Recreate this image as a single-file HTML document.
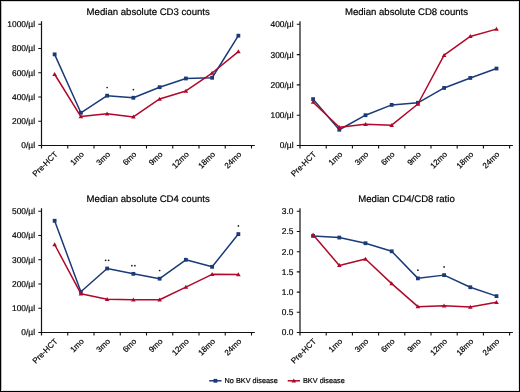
<!DOCTYPE html>
<html><head><meta charset="utf-8"><style>
html,body{margin:0;padding:0;background:#fff;}
body{width:520px;height:392px;overflow:hidden;}
.wrap{position:relative;width:518px;height:390px;border:1px solid #000;background:#fff;}
text{stroke:#000;stroke-width:0.2px;}
svg{position:absolute;left:-1px;top:-1px;will-change:transform;text-rendering:geometricPrecision;font-family:"Liberation Sans",sans-serif;}
</style></head><body><div class="wrap">
<svg width="520" height="392" viewBox="0 0 520 392">
<path d="M1.5 1V391" stroke="#bbb" stroke-width="1"/><path d="M1 1.5H519" stroke="#d4d4d4" stroke-width="1"/><path d="M518.5 1V391" stroke="#e4e4e4" stroke-width="1"/><path d="M1 390.5H519" stroke="#e8e8e8" stroke-width="1"/>
<text x="148.2" y="15.4" text-anchor="middle" font-size="9.6" fill="#000">Median absolute CD3 counts</text>
<path d="M41.5 21.3V148.5M41.5 145.5H254.8" stroke="#111" stroke-width="1.2" fill="none"/>
<text x="35" y="148.4" text-anchor="end" font-size="8.4" fill="#000">0/µl</text>
<text x="35" y="124.16" text-anchor="end" font-size="8.4" fill="#000">200/µl</text>
<text x="35" y="99.92" text-anchor="end" font-size="8.4" fill="#000">400/µl</text>
<text x="35" y="75.68" text-anchor="end" font-size="8.4" fill="#000">600/µl</text>
<text x="35" y="51.44" text-anchor="end" font-size="8.4" fill="#000">800/µl</text>
<text x="35" y="27.2" text-anchor="end" font-size="8.4" fill="#000">1000/µl</text>
<path d="M38.3 145.5H41.5M38.3 121.26H41.5M38.3 97.02H41.5M38.3 72.78H41.5M38.3 48.54H41.5M38.3 24.3H41.5M67.75 145.5V148.5M94 145.5V148.5M120.25 145.5V148.5M146.5 145.5V148.5M172.75 145.5V148.5M199 145.5V148.5M225.25 145.5V148.5M251.5 145.5V148.5" stroke="#111" stroke-width="1.1" fill="none"/>
<text transform="translate(58.12 154.8) rotate(-45)" text-anchor="end" font-size="8.0" fill="#000">Pre-HCT</text>
<text transform="translate(84.38 154.8) rotate(-45)" text-anchor="end" font-size="8.0" fill="#000">1mo</text>
<text transform="translate(110.62 154.8) rotate(-45)" text-anchor="end" font-size="8.0" fill="#000">3mo</text>
<text transform="translate(136.88 154.8) rotate(-45)" text-anchor="end" font-size="8.0" fill="#000">6mo</text>
<text transform="translate(163.12 154.8) rotate(-45)" text-anchor="end" font-size="8.0" fill="#000">9mo</text>
<text transform="translate(189.38 154.8) rotate(-45)" text-anchor="end" font-size="8.0" fill="#000">12mo</text>
<text transform="translate(215.62 154.8) rotate(-45)" text-anchor="end" font-size="8.0" fill="#000">18mo</text>
<text transform="translate(241.88 154.8) rotate(-45)" text-anchor="end" font-size="8.0" fill="#000">24mo</text>
<polyline points="54.62,54.36 80.88,112.78 107.12,95.69 133.38,97.75 159.62,87.2 185.88,78.48 212.12,77.75 238.38,35.69" stroke="#1a3a78" stroke-width="1.5" fill="none" stroke-linejoin="round"/>
<rect x="52.73" y="52.46" width="3.8" height="3.8" fill="#1a3a78"/>
<rect x="78.97" y="110.88" width="3.8" height="3.8" fill="#1a3a78"/>
<rect x="105.22" y="93.79" width="3.8" height="3.8" fill="#1a3a78"/>
<rect x="131.47" y="95.85" width="3.8" height="3.8" fill="#1a3a78"/>
<rect x="157.72" y="85.3" width="3.8" height="3.8" fill="#1a3a78"/>
<rect x="183.97" y="76.58" width="3.8" height="3.8" fill="#1a3a78"/>
<rect x="210.22" y="75.85" width="3.8" height="3.8" fill="#1a3a78"/>
<rect x="236.47" y="33.79" width="3.8" height="3.8" fill="#1a3a78"/>
<polyline points="54.62,74.23 80.88,116.53 107.12,113.87 133.38,116.9 159.62,98.96 185.88,90.96 212.12,73.02 238.38,51.57" stroke="#b0082a" stroke-width="1.5" fill="none" stroke-linejoin="round"/>
<path d="M54.62 71.91L56.92 75.91L52.33 75.91Z" fill="#b0082a"/>
<path d="M80.88 114.21L83.17 118.21L78.58 118.21Z" fill="#b0082a"/>
<path d="M107.12 111.55L109.42 115.55L104.83 115.55Z" fill="#b0082a"/>
<path d="M133.38 114.58L135.68 118.58L131.07 118.58Z" fill="#b0082a"/>
<path d="M159.62 96.64L161.93 100.64L157.32 100.64Z" fill="#b0082a"/>
<path d="M185.88 88.64L188.18 92.64L183.57 92.64Z" fill="#b0082a"/>
<path d="M212.12 70.7L214.43 74.7L209.82 74.7Z" fill="#b0082a"/>
<path d="M238.38 49.25L240.68 53.25L236.07 53.25Z" fill="#b0082a"/>
<circle cx="107.12" cy="87.49" r="0.85" fill="#1a1a1a"/>
<circle cx="133.38" cy="89.55" r="0.85" fill="#1a1a1a"/>
<text x="406.5" y="15.4" text-anchor="middle" font-size="9.6" fill="#000">Median absolute CD8 counts</text>
<path d="M300 21.3V148.5M300 145.5H512.9" stroke="#111" stroke-width="1.2" fill="none"/>
<text x="293.5" y="148.4" text-anchor="end" font-size="8.4" fill="#000">0/µl</text>
<text x="293.5" y="118.1" text-anchor="end" font-size="8.4" fill="#000">100/µl</text>
<text x="293.5" y="87.8" text-anchor="end" font-size="8.4" fill="#000">200/µl</text>
<text x="293.5" y="57.5" text-anchor="end" font-size="8.4" fill="#000">300/µl</text>
<text x="293.5" y="27.2" text-anchor="end" font-size="8.4" fill="#000">400/µl</text>
<path d="M296.8 145.5H300M296.8 115.2H300M296.8 84.9H300M296.8 54.6H300M296.8 24.3H300M326.2 145.5V148.5M352.4 145.5V148.5M378.6 145.5V148.5M404.8 145.5V148.5M431 145.5V148.5M457.2 145.5V148.5M483.4 145.5V148.5M509.6 145.5V148.5" stroke="#111" stroke-width="1.1" fill="none"/>
<text transform="translate(316.6 154.8) rotate(-45)" text-anchor="end" font-size="8.0" fill="#000">Pre-HCT</text>
<text transform="translate(342.8 154.8) rotate(-45)" text-anchor="end" font-size="8.0" fill="#000">1mo</text>
<text transform="translate(369 154.8) rotate(-45)" text-anchor="end" font-size="8.0" fill="#000">3mo</text>
<text transform="translate(395.2 154.8) rotate(-45)" text-anchor="end" font-size="8.0" fill="#000">6mo</text>
<text transform="translate(421.4 154.8) rotate(-45)" text-anchor="end" font-size="8.0" fill="#000">9mo</text>
<text transform="translate(447.6 154.8) rotate(-45)" text-anchor="end" font-size="8.0" fill="#000">12mo</text>
<text transform="translate(473.8 154.8) rotate(-45)" text-anchor="end" font-size="8.0" fill="#000">18mo</text>
<text transform="translate(500 154.8) rotate(-45)" text-anchor="end" font-size="8.0" fill="#000">24mo</text>
<polyline points="313.1,99.14 339.3,129.74 365.5,115.2 391.7,104.9 417.9,102.78 444.1,87.93 470.3,77.93 496.5,68.54" stroke="#1a3a78" stroke-width="1.5" fill="none" stroke-linejoin="round"/>
<rect x="311.2" y="97.24" width="3.8" height="3.8" fill="#1a3a78"/>
<rect x="337.4" y="127.84" width="3.8" height="3.8" fill="#1a3a78"/>
<rect x="363.6" y="113.3" width="3.8" height="3.8" fill="#1a3a78"/>
<rect x="389.8" y="103" width="3.8" height="3.8" fill="#1a3a78"/>
<rect x="416" y="100.88" width="3.8" height="3.8" fill="#1a3a78"/>
<rect x="442.2" y="86.03" width="3.8" height="3.8" fill="#1a3a78"/>
<rect x="468.4" y="76.03" width="3.8" height="3.8" fill="#1a3a78"/>
<rect x="494.6" y="66.64" width="3.8" height="3.8" fill="#1a3a78"/>
<polyline points="313.1,102.17 339.3,127.32 365.5,124.29 391.7,125.2 417.9,103.99 444.1,55.21 470.3,36.42 496.5,29.15" stroke="#b0082a" stroke-width="1.5" fill="none" stroke-linejoin="round"/>
<path d="M313.1 99.85L315.4 103.85L310.8 103.85Z" fill="#b0082a"/>
<path d="M339.3 125L341.6 129L337 129Z" fill="#b0082a"/>
<path d="M365.5 121.97L367.8 125.97L363.2 125.97Z" fill="#b0082a"/>
<path d="M391.7 122.88L394 126.88L389.4 126.88Z" fill="#b0082a"/>
<path d="M417.9 101.67L420.2 105.67L415.6 105.67Z" fill="#b0082a"/>
<path d="M444.1 52.89L446.4 56.89L441.8 56.89Z" fill="#b0082a"/>
<path d="M470.3 34.1L472.6 38.1L468 38.1Z" fill="#b0082a"/>
<path d="M496.5 26.83L498.8 30.83L494.2 30.83Z" fill="#b0082a"/>
<text x="148.2" y="201.9" text-anchor="middle" font-size="9.6" fill="#000">Median absolute CD4 counts</text>
<path d="M41.5 208.3V335.5M41.5 332.5H254.8" stroke="#111" stroke-width="1.2" fill="none"/>
<text x="35" y="335.4" text-anchor="end" font-size="8.4" fill="#000">0/µl</text>
<text x="35" y="311.16" text-anchor="end" font-size="8.4" fill="#000">100/µl</text>
<text x="35" y="286.92" text-anchor="end" font-size="8.4" fill="#000">200/µl</text>
<text x="35" y="262.68" text-anchor="end" font-size="8.4" fill="#000">300/µl</text>
<text x="35" y="238.44" text-anchor="end" font-size="8.4" fill="#000">400/µl</text>
<text x="35" y="214.2" text-anchor="end" font-size="8.4" fill="#000">500/µl</text>
<path d="M38.3 332.5H41.5M38.3 308.26H41.5M38.3 284.02H41.5M38.3 259.78H41.5M38.3 235.54H41.5M38.3 211.3H41.5M67.75 332.5V335.5M94 332.5V335.5M120.25 332.5V335.5M146.5 332.5V335.5M172.75 332.5V335.5M199 332.5V335.5M225.25 332.5V335.5M251.5 332.5V335.5" stroke="#111" stroke-width="1.1" fill="none"/>
<text transform="translate(58.12 341.8) rotate(-45)" text-anchor="end" font-size="8.0" fill="#000">Pre-HCT</text>
<text transform="translate(84.38 341.8) rotate(-45)" text-anchor="end" font-size="8.0" fill="#000">1mo</text>
<text transform="translate(110.62 341.8) rotate(-45)" text-anchor="end" font-size="8.0" fill="#000">3mo</text>
<text transform="translate(136.88 341.8) rotate(-45)" text-anchor="end" font-size="8.0" fill="#000">6mo</text>
<text transform="translate(163.12 341.8) rotate(-45)" text-anchor="end" font-size="8.0" fill="#000">9mo</text>
<text transform="translate(189.38 341.8) rotate(-45)" text-anchor="end" font-size="8.0" fill="#000">12mo</text>
<text transform="translate(215.62 341.8) rotate(-45)" text-anchor="end" font-size="8.0" fill="#000">18mo</text>
<text transform="translate(241.88 341.8) rotate(-45)" text-anchor="end" font-size="8.0" fill="#000">24mo</text>
<polyline points="54.62,220.75 80.88,291.78 107.12,268.51 133.38,273.84 159.62,278.69 185.88,259.78 212.12,266.81 238.38,234.09" stroke="#1a3a78" stroke-width="1.5" fill="none" stroke-linejoin="round"/>
<rect x="52.73" y="218.85" width="3.8" height="3.8" fill="#1a3a78"/>
<rect x="78.97" y="289.88" width="3.8" height="3.8" fill="#1a3a78"/>
<rect x="105.22" y="266.61" width="3.8" height="3.8" fill="#1a3a78"/>
<rect x="131.47" y="271.94" width="3.8" height="3.8" fill="#1a3a78"/>
<rect x="157.72" y="276.79" width="3.8" height="3.8" fill="#1a3a78"/>
<rect x="183.97" y="257.88" width="3.8" height="3.8" fill="#1a3a78"/>
<rect x="210.22" y="264.91" width="3.8" height="3.8" fill="#1a3a78"/>
<rect x="236.47" y="232.19" width="3.8" height="3.8" fill="#1a3a78"/>
<polyline points="54.62,244.51 80.88,293.72 107.12,299.29 133.38,299.78 159.62,299.78 185.88,287.17 212.12,274.32 238.38,274.57" stroke="#b0082a" stroke-width="1.5" fill="none" stroke-linejoin="round"/>
<path d="M54.62 242.19L56.92 246.19L52.33 246.19Z" fill="#b0082a"/>
<path d="M80.88 291.4L83.17 295.4L78.58 295.4Z" fill="#b0082a"/>
<path d="M107.12 296.97L109.42 300.97L104.83 300.97Z" fill="#b0082a"/>
<path d="M133.38 297.46L135.68 301.46L131.07 301.46Z" fill="#b0082a"/>
<path d="M159.62 297.46L161.93 301.46L157.32 301.46Z" fill="#b0082a"/>
<path d="M185.88 284.85L188.18 288.85L183.57 288.85Z" fill="#b0082a"/>
<path d="M212.12 272L214.43 276L209.82 276Z" fill="#b0082a"/>
<path d="M238.38 272.25L240.68 276.25L236.07 276.25Z" fill="#b0082a"/>
<circle cx="105.62" cy="260.31" r="0.85" fill="#1a1a1a"/>
<circle cx="108.62" cy="260.31" r="0.85" fill="#1a1a1a"/>
<circle cx="131.88" cy="265.64" r="0.85" fill="#1a1a1a"/>
<circle cx="134.88" cy="265.64" r="0.85" fill="#1a1a1a"/>
<circle cx="159.62" cy="270.49" r="0.85" fill="#1a1a1a"/>
<circle cx="238.38" cy="225.89" r="0.85" fill="#1a1a1a"/>
<text x="406.5" y="201.9" text-anchor="middle" font-size="9.6" fill="#000">Median CD4/CD8 ratio</text>
<path d="M300 208.3V335.5M300 332.5H512.9" stroke="#111" stroke-width="1.2" fill="none"/>
<text x="293.5" y="335.4" text-anchor="end" font-size="8.4" fill="#000">0.0</text>
<text x="293.5" y="315.2" text-anchor="end" font-size="8.4" fill="#000">0.5</text>
<text x="293.5" y="295" text-anchor="end" font-size="8.4" fill="#000">1.0</text>
<text x="293.5" y="274.8" text-anchor="end" font-size="8.4" fill="#000">1.5</text>
<text x="293.5" y="254.6" text-anchor="end" font-size="8.4" fill="#000">2.0</text>
<text x="293.5" y="234.4" text-anchor="end" font-size="8.4" fill="#000">2.5</text>
<text x="293.5" y="214.2" text-anchor="end" font-size="8.4" fill="#000">3.0</text>
<path d="M296.8 332.5H300M296.8 312.3H300M296.8 292.1H300M296.8 271.9H300M296.8 251.7H300M296.8 231.5H300M296.8 211.3H300M326.2 332.5V335.5M352.4 332.5V335.5M378.6 332.5V335.5M404.8 332.5V335.5M431 332.5V335.5M457.2 332.5V335.5M483.4 332.5V335.5M509.6 332.5V335.5" stroke="#111" stroke-width="1.1" fill="none"/>
<text transform="translate(316.6 341.8) rotate(-45)" text-anchor="end" font-size="8.0" fill="#000">Pre-HCT</text>
<text transform="translate(342.8 341.8) rotate(-45)" text-anchor="end" font-size="8.0" fill="#000">1mo</text>
<text transform="translate(369 341.8) rotate(-45)" text-anchor="end" font-size="8.0" fill="#000">3mo</text>
<text transform="translate(395.2 341.8) rotate(-45)" text-anchor="end" font-size="8.0" fill="#000">6mo</text>
<text transform="translate(421.4 341.8) rotate(-45)" text-anchor="end" font-size="8.0" fill="#000">9mo</text>
<text transform="translate(447.6 341.8) rotate(-45)" text-anchor="end" font-size="8.0" fill="#000">12mo</text>
<text transform="translate(473.8 341.8) rotate(-45)" text-anchor="end" font-size="8.0" fill="#000">18mo</text>
<text transform="translate(500 341.8) rotate(-45)" text-anchor="end" font-size="8.0" fill="#000">24mo</text>
<polyline points="313.1,235.94 339.3,237.56 365.5,243.22 391.7,251.3 417.9,278.36 444.1,275.13 470.3,287.25 496.5,296.14" stroke="#1a3a78" stroke-width="1.5" fill="none" stroke-linejoin="round"/>
<rect x="311.2" y="234.04" width="3.8" height="3.8" fill="#1a3a78"/>
<rect x="337.4" y="235.66" width="3.8" height="3.8" fill="#1a3a78"/>
<rect x="363.6" y="241.32" width="3.8" height="3.8" fill="#1a3a78"/>
<rect x="389.8" y="249.4" width="3.8" height="3.8" fill="#1a3a78"/>
<rect x="416" y="276.46" width="3.8" height="3.8" fill="#1a3a78"/>
<rect x="442.2" y="273.23" width="3.8" height="3.8" fill="#1a3a78"/>
<rect x="468.4" y="285.35" width="3.8" height="3.8" fill="#1a3a78"/>
<rect x="494.6" y="294.24" width="3.8" height="3.8" fill="#1a3a78"/>
<polyline points="313.1,234.73 339.3,265.44 365.5,258.97 391.7,283.62 417.9,306.64 444.1,305.84 470.3,307.05 496.5,302.2" stroke="#b0082a" stroke-width="1.5" fill="none" stroke-linejoin="round"/>
<path d="M313.1 232.41L315.4 236.41L310.8 236.41Z" fill="#b0082a"/>
<path d="M339.3 263.12L341.6 267.12L337 267.12Z" fill="#b0082a"/>
<path d="M365.5 256.65L367.8 260.65L363.2 260.65Z" fill="#b0082a"/>
<path d="M391.7 281.3L394 285.3L389.4 285.3Z" fill="#b0082a"/>
<path d="M417.9 304.32L420.2 308.32L415.6 308.32Z" fill="#b0082a"/>
<path d="M444.1 303.52L446.4 307.52L441.8 307.52Z" fill="#b0082a"/>
<path d="M470.3 304.73L472.6 308.73L468 308.73Z" fill="#b0082a"/>
<path d="M496.5 299.88L498.8 303.88L494.2 303.88Z" fill="#b0082a"/>
<circle cx="417.9" cy="270.16" r="0.85" fill="#1a1a1a"/>
<circle cx="444.1" cy="266.93" r="0.85" fill="#1a1a1a"/>
<path d="M209.2 380.8H221.5" stroke="#1a3a78" stroke-width="1.5"/>
<rect x="213.5" y="378.9" width="3.8" height="3.8" fill="#1a3a78"/>
<text x="224.6" y="383" font-size="7.3" fill="#000">No BKV disease</text>
<path d="M287.7 380.8H300" stroke="#b0082a" stroke-width="1.5"/>
<path d="M293.8 378.48L296.1 382.48L291.5 382.48Z" fill="#b0082a"/>
<text x="303" y="383" font-size="7.3" fill="#000">BKV disease</text>
</svg></div></body></html>
